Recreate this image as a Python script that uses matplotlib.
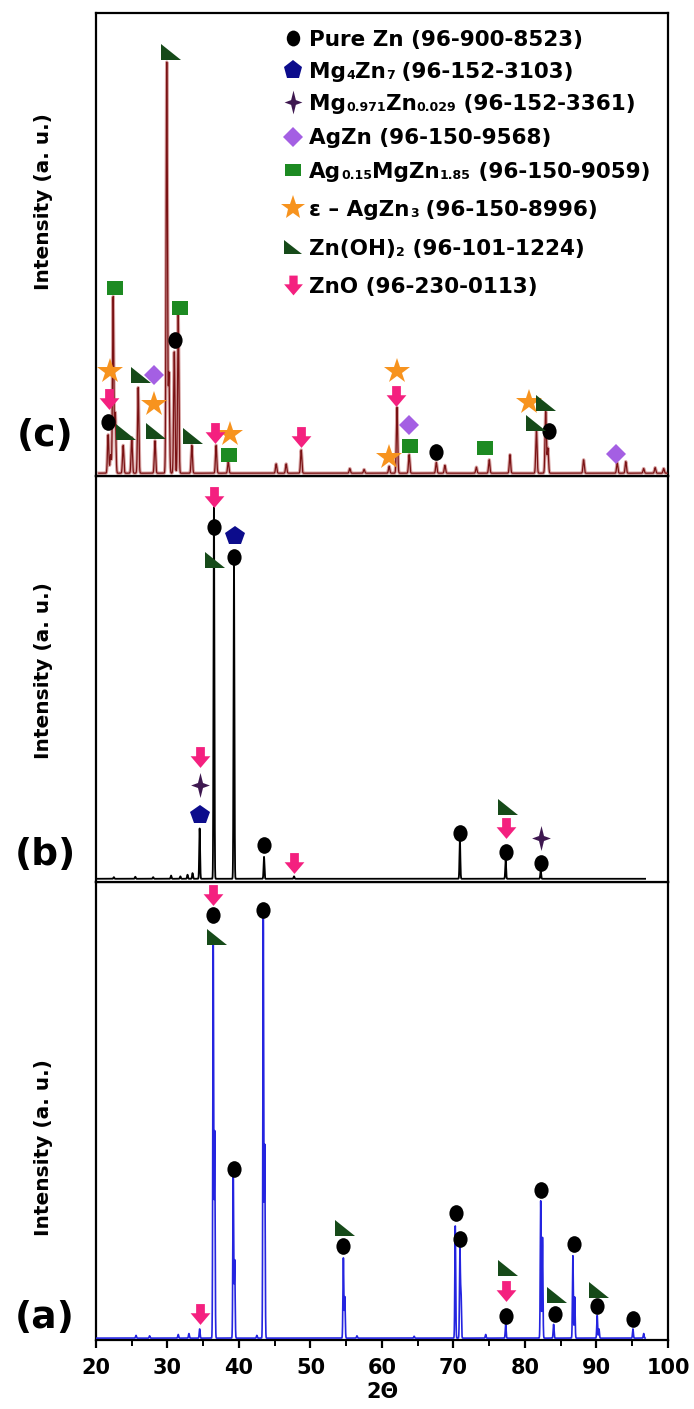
import numpy as np
import matplotlib.pyplot as plt
from matplotlib import transforms
from matplotlib.path import Path
from matplotlib.transforms import Affine2D
from matplotlib.ticker import MultipleLocator

plt.rcParams['font.family'] = ['DejaVu Sans']
plt.rcParams['font.weight'] = 'bold'

# ---- panel (c): Zn-Mg-Ag alloy, peaks (2theta, relative height)
c_peak_x = [21.7, 22.05, 22.4, 22.7, 23.8, 25.0, 25.9, 28.25, 29.9, 30.2, 30.95, 31.5,
            33.4, 36.8, 38.5, 45.2, 46.6, 48.7, 55.5, 57.5, 61.0, 62.1, 63.8, 67.6, 68.8,
            73.2, 75.0, 77.9, 81.6, 82.9, 83.2, 88.2, 92.9, 94.1, 96.6, 98.2, 99.4]
c_peak_h = [0.083, 0.04, 0.381, 0.13, 0.06, 0.077, 0.185, 0.07, 0.887, 0.215, 0.262, 0.342,
            0.06, 0.06, 0.025, 0.02, 0.02, 0.05, 0.01, 0.008, 0.015, 0.142, 0.04, 0.023, 0.017,
            0.013, 0.029, 0.04, 0.094, 0.133, 0.054, 0.029, 0.022, 0.025, 0.01, 0.012, 0.01]

# ---- panel (b)
b_peak_x = [22.5, 25.5, 28.0, 30.5, 31.8, 32.8, 33.5, 34.5, 36.5, 39.3, 43.5, 47.7,
            70.9, 77.3, 82.2]
b_peak_h = [0.004, 0.005, 0.004, 0.008, 0.006, 0.01, 0.014, 0.124, 0.915, 0.775, 0.054, 0.006,
            0.095, 0.046, 0.021]

# ---- panel (a)
a_peak_x = [25.6, 27.5, 31.5, 33.0, 34.5, 36.4, 36.6, 39.2, 39.4, 42.5, 43.4, 43.6,
            54.6, 54.8, 56.5, 64.5, 70.25, 70.9, 71.05, 74.5, 77.3, 82.2, 82.45, 84.0,
            86.7, 86.95, 90.1, 90.35, 95.1, 96.6]
a_peak_h = [0.006, 0.005, 0.008, 0.01, 0.02, 0.87, 0.45, 0.36, 0.17, 0.006, 0.92, 0.42,
            0.175, 0.09, 0.005, 0.004, 0.245, 0.195, 0.1, 0.008, 0.03, 0.30, 0.22, 0.03,
            0.18, 0.09, 0.05, 0.02, 0.02, 0.01]

# ---- phase markers: kind, x, y
c_mark_kind = ['zn', 'zn', 'zn', 'zn',
               'sq', 'sq', 'sq', 'sq', 'sq',
               'star', 'star', 'star', 'star', 'star', 'star',
               'dia', 'dia', 'dia',
               'tri', 'tri', 'tri', 'tri', 'tri', 'tri', 'tri',
               'arr', 'arr', 'arr', 'arr']
c_mark_x = [21.75, 31.0, 67.5, 83.4,
            22.6, 31.7, 38.6, 63.9, 74.4,
            22.0, 28.15, 38.8, 62.1, 61.0, 80.6,
            28.15, 63.8, 92.8,
            30.5, 24.2, 26.3, 28.4, 33.6, 81.5, 82.9,
            21.8, 36.65, 48.7, 62.0]
c_mark_y = [0.116, 0.293, 0.051, 0.097,
            0.405, 0.363, 0.046, 0.065, 0.061,
            0.226, 0.156, 0.09, 0.226, 0.042, 0.159,
            0.219, 0.109, 0.048,
            0.916, 0.094, 0.219, 0.097, 0.086, 0.115, 0.158,
            0.167, 0.092, 0.084, 0.173]

b_mark_kind = ['arr', 'star4', 'pent',
               'arr', 'zn', 'tri',
               'pent', 'zn', 'zn', 'arr', 'zn',
               'tri', 'arr', 'zn', 'star4', 'zn']
b_mark_x = [34.5, 34.5, 34.5,
            36.45, 36.45, 36.6,
            39.4, 39.3, 43.5, 47.7, 70.9,
            77.6, 77.3, 77.3, 82.2, 82.2]
b_mark_y = [0.309, 0.239, 0.165,
            0.949, 0.875, 0.793,
            0.851, 0.80, 0.091, 0.046, 0.12,
            0.186, 0.132, 0.075, 0.108, 0.048]

a_mark_kind = ['arr', 'arr', 'zn', 'tri', 'zn', 'zn', 'tri', 'zn', 'zn', 'zn',
               'tri', 'arr', 'zn', 'zn', 'tri', 'zn', 'zn', 'tri', 'zn', 'zn']
a_mark_x = [34.5, 36.4, 36.4, 36.9, 39.3, 43.4, 54.8, 54.6, 70.4, 70.9,
            77.6, 77.3, 77.3, 82.2, 84.5, 84.2, 86.85, 90.3, 90.1, 95.1]
a_mark_y = [0.057, 0.972, 0.928, 0.88, 0.373, 0.94, 0.245, 0.205, 0.277, 0.22,
            0.157, 0.107, 0.052, 0.328, 0.098, 0.056, 0.21, 0.109, 0.075, 0.045]

# legend rows: (text, is_subscript) pieces
legend_kinds = ['zn', 'pent', 'star4', 'dia', 'sq', 'star', 'tri', 'arr']
legend_pieces = [
    [('Pure Zn (96-900-8523)', False)],
    [('Mg', False), ('4', True), ('Zn', False), ('7', True), (' (96-152-3103)', False)],
    [('Mg', False), ('0.971', True), ('Zn', False), ('0.029', True), (' (96-152-3361)', False)],
    [('AgZn (96-150-9568)', False)],
    [('Ag', False), ('0.15', True), ('MgZn', False), ('1.85', True), (' (96-150-9059)', False)],
    [('ε – AgZn', False), ('3', True), (' (96-150-8996)', False)],
    [('Zn(OH)', False), ('2', True), (' (96-101-1224)', False)],
    [('ZnO (96-230-0113)', False)],
]

# ---- custom marker shapes
L, M, C = Path.LINETO, Path.MOVETO, Path.CLOSEPOLY
tri_path = Path([(-1, 0.8), (-1, -0.8), (1, -0.8), (-1, 0.8)], [M, L, L, C])
arrow_path = Path([(-0.42, 1), (0.42, 1), (0.42, 0.12), (0.95, 0.12), (0, -1),
                   (-0.95, 0.12), (-0.42, 0.12), (-0.42, 1)], [M, L, L, L, L, L, L, C])
star4_path = Path([(0, 1), (0.2, 0.2), (0.75, 0), (0.2, -0.2), (0, -1), (-0.2, -0.2),
                   (-0.75, 0), (-0.2, 0.2), (0, 1)], [M, L, L, L, L, L, L, L, C])
rect_path = Path([(-1, -0.82), (1, -0.82), (1, 0.82), (-1, 0.82), (-1, -0.82)], [M, L, L, L, C])
ell_path = Path.unit_circle().transformed(Affine2D().scale(0.85, 1.0))

styles = {
    'zn': dict(marker=ell_path, color='black', ms=12),
    'pent': dict(marker='p', color='#0c0c8c', ms=15),
    'star4': dict(marker=star4_path, color='#3e1850', ms=18),
    'dia': dict(marker='D', color='#a45fe3', ms=10.5),
    'sq': dict(marker=rect_path, color='#1d8a22', ms=12),
    'star': dict(marker='*', color='#f7931e', ms=19),
    'tri': dict(marker=tri_path, color='#164a19', ms=14),
    'arr': dict(marker=arrow_path, color='#f4207f', ms=15),
}


def spectrum(x, pos, hgt, width, base):
    y = np.full_like(x, base)
    for p, h in zip(pos, hgt):
        y += h * np.exp(-0.5 * ((x - p) / width) ** 2)
    return y


def put_markers(ax, kinds, xs, ys):
    for k, x, y in zip(kinds, xs, ys):
        s = styles[k]
        ax.plot(x, y, linestyle='none', marker=s['marker'], color=s['color'],
                markersize=s['ms'], markeredgewidth=0, zorder=5, clip_on=False)


def rich_text(ax, x, y, pieces, size=15.5, sub_size=9):
    # draw text pieces one after another, subscripts smaller
    r = ax.figure.canvas.get_renderer()
    t = ax.transAxes
    for s, sub in pieces:
        tt = transforms.offset_copy(t, fig=ax.figure, x=0, y=-1.5 if sub else 0, units='dots')
        txt = ax.text(x, y, s, fontsize=sub_size if sub else size, fontweight='bold',
                      ha='left', va='baseline', transform=tt)
        w = txt.get_window_extent(r).width
        t = transforms.offset_copy(t, fig=ax.figure, x=w, units='dots')


fig = plt.figure(figsize=(6.94, 14.09), dpi=100)
left, width = 0.1383, 0.8242
ax_a = fig.add_axes([left, 0.049, width, 0.374 - 0.049])
ax_b = fig.add_axes([left, 0.374, width, 0.6622 - 0.374])
ax_c = fig.add_axes([left, 0.6622, width, 0.9908 - 0.6622])

xc = np.linspace(20.4, 99.9, 16000)
xa = np.linspace(20.1, 96.8, 16000)

yc = spectrum(xc, c_peak_x, c_peak_h, 0.09, 0.006)
ax_c.plot(xc, yc, color='#d8a4a4', lw=2.4, zorder=2)
ax_c.plot(xc, yc, color='#7a1214', lw=0.9, zorder=3)
ax_b.plot(xa, spectrum(xa, b_peak_x, b_peak_h, 0.06, 0.008), color='black', lw=1.3, zorder=3)
ax_a.plot(xa, spectrum(xa, a_peak_x, a_peak_h, 0.06, 0.004), color='#2424e0', lw=1.2, zorder=3)

put_markers(ax_c, c_mark_kind, c_mark_x, c_mark_y)
put_markers(ax_b, b_mark_kind, b_mark_x, b_mark_y)
put_markers(ax_a, a_mark_kind, a_mark_x, a_mark_y)

label_y = {ax_c: 0.592, ax_b: 0.52, ax_a: 0.42}
for ax in (ax_a, ax_b, ax_c):
    ax.set_xlim(20, 100)
    ax.set_ylim(0, 1)
    ax.set_yticks([])
    for sp in ax.spines.values():
        sp.set_linewidth(1.6)
    ax.text(-0.091, label_y[ax], 'Intensity (a. u.)', rotation=90, ha='center', va='center',
            fontsize=14.5, fontweight='bold', transform=ax.transAxes)

for ax in (ax_b, ax_c):
    ax.set_xticks([])

ax_a.xaxis.set_major_locator(MultipleLocator(10))
ax_a.xaxis.set_minor_locator(MultipleLocator(5))
ax_a.tick_params(axis='x', which='major', direction='out', length=6, width=1.6,
                 labelsize=15, pad=7)
ax_a.tick_params(axis='x', which='minor', direction='out', length=4, width=1.4)
for lab in ax_a.get_xticklabels():
    lab.set_fontweight('bold')
ax_a.set_xlabel('2Θ', fontsize=15, fontweight='bold', labelpad=3)

for ax, lab, yy in ((ax_c, '(c)', 0.086), (ax_b, '(b)', 0.066), (ax_a, '(a)', 0.048)):
    ax.text(-0.089, yy, lab, fontsize=27, fontweight='bold', ha='center', va='center',
            transform=ax.transAxes)

# legend drawn in panel (c)
leg_y = [0.946, 0.877, 0.808, 0.733, 0.661, 0.579, 0.495, 0.413]
for k, pieces, yy in zip(legend_kinds, legend_pieces, leg_y):
    s = styles[k]
    ax_c.plot(0.345, yy, linestyle='none', marker=s['marker'], color=s['color'],
              markersize=s['ms'] * 0.95, markeredgewidth=0, transform=ax_c.transAxes)
    rich_text(ax_c, 0.373, yy - 0.017, pieces)

fig.savefig('out.png', dpi=100)
